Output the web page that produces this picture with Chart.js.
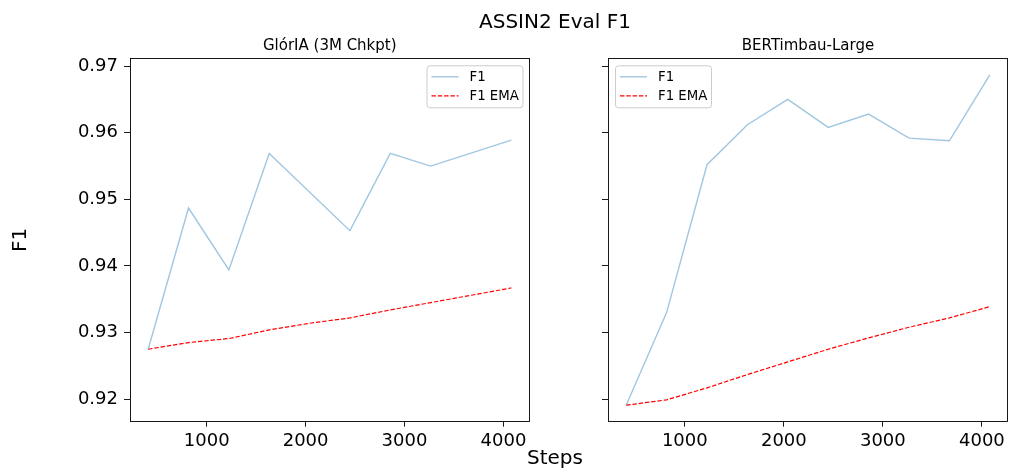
<!DOCTYPE html>
<html>
<head>
<meta charset="utf-8">
<script src="https://cdn.jsdelivr.net/npm/chart.js@4"></script>
<style>
  body { margin: 0; background: #fff; }
  #wrap { position: relative; width: 1010px; height: 468px; font-family: "DejaVu Sans", sans-serif; }
  canvas { position: absolute; top: 0; }
  .txt { position: absolute; font-size: 20px; line-height: 20px; text-align: center; color: #000; z-index: 2; }
</style>
</head>
<body>
<div id="wrap">
  <canvas id="left" width="540" height="468" style="left:0"></canvas>
  <canvas id="right" width="470" height="468" style="left:540px"></canvas>
  <div class="txt" style="left:455px; top:11px; width:200px;">ASSIN2 Eval F1</div>
  <div class="txt" style="left:505px; top:447px; width:100px;">Steps</div>
</div>
<script>
// dados
let passos = [408, 816, 1224, 1632, 2040, 2448, 2856, 3264, 3672, 4080]
let passosGloriaF1 = [408, 816, 1224, 1632, 2448, 2856, 3264, 4080]
let gloriaF1 = [0.9275, 0.9487, 0.9394, 0.9569, 0.9453, 0.9569, 0.9550, 0.9589]
let gloriaEMA = [0.9275, 0.9285, 0.9291, 0.9304, 0.9314, 0.9322, 0.9334, 0.9345, 0.9356, 0.9367]
let bertF1 = [0.9191, 0.9330, 0.9552, 0.9612, 0.9650, 0.9608, 0.9628, 0.9592, 0.9588, 0.9687]
let bertEMA = [0.9191, 0.9199, 0.9217, 0.9237, 0.9256, 0.9275, 0.9292, 0.9308, 0.9322, 0.9339]
let ticksX = [1000, 2000, 3000, 4000]
let ticksY = [0.92, 0.93, 0.94, 0.95, 0.96, 0.97]
let titulos = ['GlórIA (3M Chkpt)', 'BERTimbau-Large']

const fonte = '"DejaVu Sans", sans-serif'

// limites com margem de 5% como no matplotlib
let todosY = gloriaF1.concat(gloriaEMA, bertF1, bertEMA)
let yMin = Math.min(...todosY), yMax = Math.max(...todosY)
let yPad = (yMax - yMin) * 0.05
let xMin = Math.min(...passos), xMax = Math.max(...passos)
let xPad = (xMax - xMin) * 0.05

function pares(xs, ys) {
    return ys.map((v, i) => ({ x: xs[i], y: v }))
}

// moldura em volta da área do gráfico, título do subplot e legenda dentro
const moldura = {
    id: 'moldura',
    afterDatasetsDraw(chart) {
        let a = chart.chartArea
        let ctx = chart.ctx
        let op = chart.options.plugins.moldura
        ctx.save()
        ctx.strokeStyle = '#000'
        ctx.lineWidth = 0.9
        ctx.strokeRect(Math.round(a.left) + 0.5, Math.round(a.top) + 0.5,
            Math.round(a.right - a.left) - 1, Math.round(a.bottom - a.top))

        // título centrado na área
        ctx.fillStyle = '#000'
        ctx.font = '15px ' + fonte
        ctx.textAlign = 'center'
        ctx.textBaseline = 'alphabetic'
        ctx.fillText(op.titulo, (a.left + a.right) / 2, 50)
        ctx.textAlign = 'left'

        // legenda
        let w = 96, h = 42
        let bx = op.lado == 'right' ? a.right - 7 - w : a.left + 7
        let by = a.top + 7
        ctx.fillStyle = 'rgba(255,255,255,0.8)'
        ctx.strokeStyle = '#cccccc'
        ctx.lineWidth = 1
        ctx.beginPath()
        ctx.roundRect(bx + 0.5, by + 0.5, w, h, 3)
        ctx.fill()
        ctx.stroke()
        chart.data.datasets.forEach((ds, i) => {
            let ly = by + 11.5 + i * 19
            ctx.strokeStyle = ds.borderColor
            ctx.lineWidth = ds.borderWidth
            ctx.setLineDash(ds.borderDash || [])
            ctx.beginPath()
            ctx.moveTo(bx + 5, ly)
            ctx.lineTo(bx + 32, ly)
            ctx.stroke()
            ctx.setLineDash([])
            ctx.fillStyle = '#000'
            ctx.font = '13.3px ' + fonte
            ctx.textBaseline = 'middle'
            ctx.fillText(ds.label, bx + 43, ly + 0.5)
        })
        ctx.restore()
    }
}

function montar(canvasId, titulo, f1, ema, passosF1, eixoY, lado) {
    const config = {
        type: 'line',
        data: {
            datasets: [
                {
                    label: 'F1',
                    data: pares(passosF1, f1),
                    borderColor: 'rgba(31,119,180,0.42)',
                    borderWidth: 1.4,
                    pointRadius: 0,
                    tension: 0
                },
                {
                    label: 'F1 EMA',
                    data: pares(passos, ema),
                    borderColor: '#ff0000',
                    borderWidth: 1.2,
                    borderDash: [4.4, 1.9],
                    pointRadius: 0,
                    tension: 0
                }
            ]
        },
        options: {
            responsive: false,
            animation: false,
            layout: { padding: { left: 0, right: lado == 'right' ? 10.5 : 2, top: 58.3, bottom: 0 } },
            plugins: {
                legend: { display: false },
                tooltip: { enabled: false },
                title: { display: false },
                moldura: { lado: lado, titulo: titulo }
            },
            scales: {
                x: {
                    type: 'linear',
                    min: xMin - xPad,
                    max: xMax + xPad,
                    border: { display: false },
                    grid: { drawOnChartArea: false, color: '#000', tickLength: 5, lineWidth: 0.9 },
                    afterBuildTicks: s => { s.ticks = ticksX.map(v => ({ value: v })) },
                    afterFit: s => { s.height = 46.3 },
                    ticks: {
                        color: '#000',
                        font: { family: fonte, size: 18 },
                        padding: 4,
                        maxRotation: 0,
                        callback: v => String(v)
                    }
                },
                y: {
                    min: yMin - yPad,
                    max: yMax + yPad,
                    border: { display: false },
                    grid: { drawOnChartArea: false, color: '#000', tickLength: 6, lineWidth: 0.9 },
                    afterBuildTicks: s => { s.ticks = ticksY.map(v => ({ value: v })) },
                    afterFit: s => { s.width = eixoY.largura },
                    title: {
                        display: eixoY.titulo,
                        text: 'F1',
                        color: '#000',
                        font: { family: fonte, size: 20 },
                        padding: { top: 9, bottom: 0 }
                    },
                    ticks: {
                        display: eixoY.rotulos,
                        color: '#000',
                        font: { family: fonte, size: 18 },
                        padding: 6,
                        callback: v => v.toFixed(2)
                    }
                }
            }
        },
        plugins: [moldura]
    }
    return new Chart(document.getElementById(canvasId), config)
}

montar('left', titulos[0], gloriaF1, gloriaEMA, passosGloriaF1, { largura: 130, titulo: true, rotulos: true }, 'right')
montar('right', titulos[1], bertF1, bertEMA, passos, { largura: 68, titulo: false, rotulos: false }, 'left')
</script>
</body>
</html>
